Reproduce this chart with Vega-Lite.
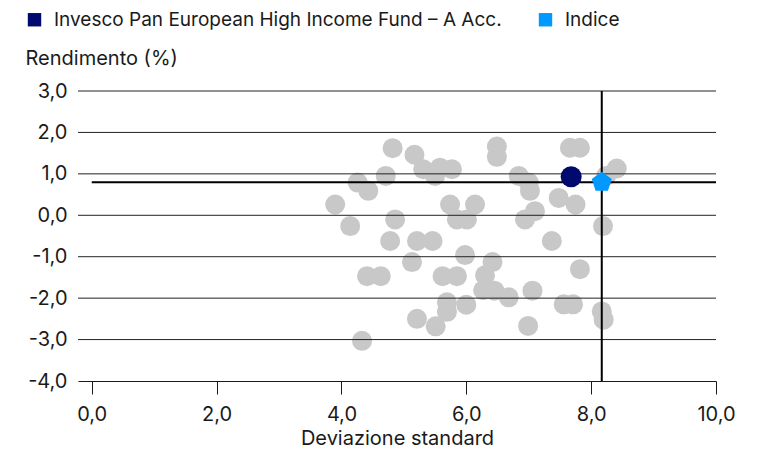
{
  "$schema": "https://vega.github.io/schema/vega-lite/v6.json",
  "width": 638,
  "height": 290,
  "autosize": "none",
  "padding": {"left": 78, "top": 91, "right": 41, "bottom": 73},
  "config": {
    "view": {"stroke": null},
    "font": "Inter",
    "axis": {"labelFont": "Inter", "titleFont": "Inter", "labelColor": "#1a1a1a", "titleColor": "#1a1a1a", "titleFontWeight": "normal"},
    "legend": {"labelFont": "Inter"}
  },
  "datasets": {
    "peers": [
      {"dev": 3.90, "ret": 0.26}, {"dev": 4.14, "ret": -0.26}, {"dev": 4.26, "ret": 0.79}, {"dev": 4.43, "ret": 0.59},
      {"dev": 4.82, "ret": 1.62}, {"dev": 4.71, "ret": 0.95}, {"dev": 5.17, "ret": 1.46}, {"dev": 5.31, "ret": 1.11},
      {"dev": 5.50, "ret": 0.95}, {"dev": 5.58, "ret": 1.15}, {"dev": 5.77, "ret": 1.11}, {"dev": 4.86, "ret": -0.10},
      {"dev": 5.74, "ret": 0.26}, {"dev": 5.85, "ret": -0.10}, {"dev": 6.01, "ret": -0.10}, {"dev": 6.14, "ret": 0.26},
      {"dev": 4.78, "ret": -0.62}, {"dev": 5.21, "ret": -0.62}, {"dev": 5.46, "ret": -0.62}, {"dev": 5.98, "ret": -0.96},
      {"dev": 5.13, "ret": -1.13}, {"dev": 4.41, "ret": -1.47}, {"dev": 4.63, "ret": -1.47}, {"dev": 5.62, "ret": -1.47},
      {"dev": 5.85, "ret": -1.47}, {"dev": 5.69, "ret": -2.10}, {"dev": 5.69, "ret": -2.33}, {"dev": 6.00, "ret": -2.16},
      {"dev": 5.21, "ret": -2.50}, {"dev": 5.51, "ret": -2.68}, {"dev": 4.33, "ret": -3.03}, {"dev": 6.42, "ret": -1.13},
      {"dev": 6.30, "ret": -1.45}, {"dev": 6.27, "ret": -1.81}, {"dev": 6.45, "ret": -1.82}, {"dev": 6.68, "ret": -1.98},
      {"dev": 7.06, "ret": -1.82}, {"dev": 7.37, "ret": -0.62}, {"dev": 7.82, "ret": -1.30}, {"dev": 7.56, "ret": -2.15},
      {"dev": 7.71, "ret": -2.15}, {"dev": 6.99, "ret": -2.67}, {"dev": 8.17, "ret": -2.32}, {"dev": 8.20, "ret": -2.52},
      {"dev": 8.19, "ret": -0.26}, {"dev": 6.49, "ret": 1.66}, {"dev": 6.49, "ret": 1.41}, {"dev": 6.84, "ret": 0.95},
      {"dev": 7.00, "ret": 0.79}, {"dev": 7.02, "ret": 0.59}, {"dev": 7.10, "ret": 0.10}, {"dev": 6.94, "ret": -0.10},
      {"dev": 7.48, "ret": 0.42}, {"dev": 7.75, "ret": 0.26}, {"dev": 7.66, "ret": 1.63}, {"dev": 7.82, "ret": 1.63},
      {"dev": 8.41, "ret": 1.13}, {"dev": 8.24, "ret": 0.95}
    ],
    "grid": [
      {"ret": 3}, {"ret": 2}, {"ret": 1}, {"ret": 0}, {"ret": -1}, {"ret": -2}, {"ret": -3}
    ],
    "fund": [
      {"series": "Invesco Pan European High Income Fund – A Acc.", "dev": 7.68, "ret": 0.93}
    ],
    "index": [
      {"series": "Indice", "dev": 8.17, "ret": 0.80}
    ]
  },
  "layer": [
    {
      "data": {"name": "peers"},
      "mark": {"type": "point", "shape": "circle", "filled": true, "color": "#c8c8c8", "opacity": 1, "size": 400},
      "encoding": {
        "x": {
          "field": "dev", "type": "quantitative", "title": "Deviazione standard",
          "scale": {"domain": [-0.22, 10], "nice": false, "zero": false},
          "axis": {
            "title": "Deviazione standard", "values": [0, 2, 4, 6, 8, 10],
            "labelExpr": "replace(replace(format(datum.value, '.1f'), '.', ','), '\u2212', '-')",
            "labelFlush": false, "labelOverlap": false,
            "grid": false, "domain": true, "domainColor": "#1a1a1a", "domainWidth": 1,
            "ticks": true, "tickColor": "#1a1a1a", "tickSize": 13, "tickWidth": 1,
            "labelFontSize": 20, "labelPadding": 10, "titleFontSize": 20, "titlePadding": 4
          }
        },
        "y": {
          "field": "ret", "type": "quantitative", "title": "Rendimento (%)",
          "scale": {"domain": [-4, 3], "nice": false, "zero": false},
          "axis": {
            "title": "Rendimento (%)", "values": [-4, -3, -2, -1, 0, 1, 2, 3],
            "labelExpr": "replace(replace(format(datum.value, '.1f'), '.', ','), '\u2212', '-')",
            "labelFlush": false, "labelOverlap": false,
            "grid": false, "domain": false, "ticks": false, "tickSize": 0,
            "labelFontSize": 20, "labelPadding": 11,
            "titleFontSize": 20, "titleAngle": 0, "titleAlign": "left", "titleBaseline": "middle",
            "titleX": -53, "titleY": -33
          }
        }
      }
    },
    {
      "data": {"name": "grid"},
      "mark": {"type": "rule", "color": "#222222", "strokeWidth": 1},
      "encoding": {
        "y": {"field": "ret", "type": "quantitative", "title": "Rendimento (%)"}
      }
    },
    {
      "data": {"name": "index"},
      "mark": {"type": "rule", "color": "#000000", "strokeWidth": 2},
      "encoding": {
        "x": {"field": "dev", "type": "quantitative", "title": "Deviazione standard"}
      }
    },
    {
      "data": {"name": "index"},
      "mark": {"type": "rule", "color": "#000000", "strokeWidth": 2},
      "encoding": {
        "y": {"field": "ret", "type": "quantitative", "title": "Rendimento (%)"},
        "x": {"datum": 0, "type": "quantitative", "title": "Deviazione standard"},
        "x2": {"datum": 10}
      }
    },
    {
      "data": {"name": "fund"},
      "mark": {"type": "point", "shape": "circle", "filled": true, "opacity": 1, "size": 441},
      "encoding": {
        "x": {"field": "dev", "type": "quantitative", "title": "Deviazione standard"},
        "y": {"field": "ret", "type": "quantitative", "title": "Rendimento (%)"},
        "color": {
          "field": "series", "type": "nominal",
          "scale": {"domain": ["Invesco Pan European High Income Fund – A Acc.", "Indice"], "range": ["#000a6e", "#0099ff"]},
          "legend": {
            "title": null, "orient": "none", "legendX": -53, "legendY": -81, "direction": "horizontal",
            "symbolType": "square", "symbolSize": 180, "symbolStrokeWidth": 0, "symbolOpacity": 1,
            "labelFontSize": 19, "labelColor": "#1a1a1a", "columnPadding": 34, "labelOffset": 10, "labelLimit": 0
          }
        }
      }
    },
    {
      "data": {"name": "index"},
      "mark": {"type": "point", "shape": "M0,-1L0.951,-0.309L0.588,0.809L-0.588,0.809L-0.951,-0.309Z", "filled": true, "opacity": 1, "size": 441},
      "encoding": {
        "x": {"field": "dev", "type": "quantitative", "title": "Deviazione standard"},
        "y": {"field": "ret", "type": "quantitative", "title": "Rendimento (%)"},
        "color": {
          "field": "series", "type": "nominal",
          "scale": {"domain": ["Invesco Pan European High Income Fund – A Acc.", "Indice"], "range": ["#000a6e", "#0099ff"]},
          "legend": {
            "title": null, "orient": "none", "legendX": -53, "legendY": -81, "direction": "horizontal",
            "symbolType": "square", "symbolSize": 180, "symbolStrokeWidth": 0, "symbolOpacity": 1,
            "labelFontSize": 19, "labelColor": "#1a1a1a", "columnPadding": 34, "labelOffset": 10, "labelLimit": 0
          }
        }
      }
    }
  ]
}
